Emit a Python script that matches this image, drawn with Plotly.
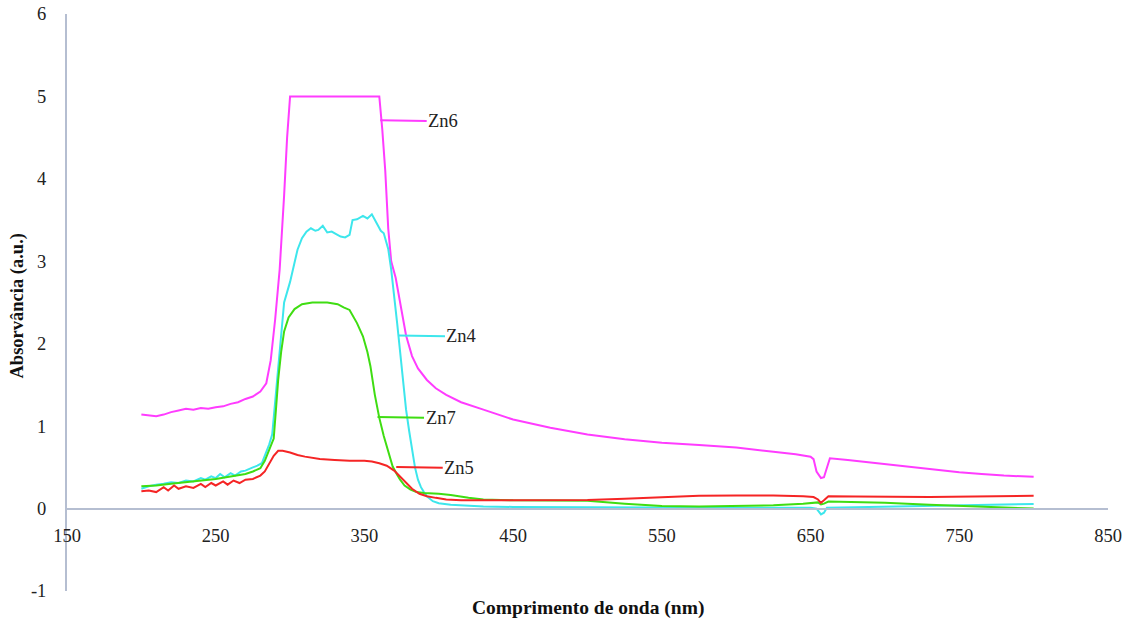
import plotly.graph_objects as go

# ---------------- data ----------------
zn6_nm = [200, 205, 210, 215, 220, 225, 230, 235, 240, 245, 250, 255, 260, 265, 270, 275, 280, 284, 287,
          290, 293, 296, 298, 300, 360, 362, 364, 366, 368, 371, 374, 378, 382, 386, 392, 398, 405, 415,
          430, 450, 475, 500, 525, 550, 575, 600, 625, 640, 650, 652, 654, 657, 659, 661, 663, 675, 690,
          710, 730, 750, 765, 780, 800]
zn6_abs = [1.14, 1.13, 1.12, 1.14, 1.17, 1.19, 1.21, 1.20, 1.22, 1.21, 1.23, 1.24, 1.27, 1.29, 1.33, 1.36,
           1.42, 1.52, 1.8, 2.3, 2.9, 3.8, 4.5, 5.0, 5.0, 4.6, 4.1, 3.4, 3.0, 2.8, 2.5, 2.1, 1.85, 1.7, 1.56,
           1.46, 1.38, 1.29, 1.2, 1.08, 0.98, 0.9, 0.84, 0.8, 0.77, 0.74, 0.69, 0.66, 0.63, 0.6, 0.45, 0.37,
           0.38, 0.5, 0.61, 0.59, 0.56, 0.52, 0.48, 0.44, 0.42, 0.40, 0.385]

zn4_nm = [200, 205, 210, 215, 220, 225, 230, 235, 240, 243, 247, 250, 253, 256, 260, 263, 267, 270, 275,
          278, 281, 284, 286, 288, 289.5, 291, 293, 296, 300, 302, 305, 308, 311, 314, 317, 319, 322, 325,
          328, 331, 334, 337, 340, 342, 345, 349, 352, 355, 358, 361, 363, 366, 368, 370, 372, 374, 376,
          378, 380, 382, 384, 386, 388, 390, 392, 396, 400, 408, 430, 450, 500, 550, 600, 640, 650, 654,
          657, 659, 661, 680, 710, 740, 770, 800]
zn4_abs = [0.24, 0.27, 0.29, 0.30, 0.32, 0.31, 0.34, 0.33, 0.37, 0.35, 0.39, 0.37, 0.42, 0.38, 0.43, 0.40,
           0.45, 0.46, 0.50, 0.52, 0.55, 0.68, 0.78, 0.9, 1.2, 1.56, 2.0, 2.5, 2.75, 2.9, 3.14, 3.28, 3.36,
           3.40, 3.37, 3.38, 3.43, 3.35, 3.36, 3.33, 3.30, 3.29, 3.32, 3.50, 3.51, 3.55, 3.52, 3.57, 3.47,
           3.37, 3.34, 3.15, 2.9, 2.6, 2.25, 1.9, 1.55, 1.2, 0.95, 0.7, 0.5, 0.35, 0.26, 0.2, 0.15, 0.09,
           0.065, 0.045, 0.025, 0.02, 0.015, 0.01, 0.01, 0.01, 0.01, 0.0, -0.07, -0.05, 0.01, 0.015, 0.025,
           0.035, 0.045, 0.055]

zn7_nm = [200, 210, 220, 230, 240, 250, 260, 270, 275, 280, 283, 286, 289, 290.5, 292, 294, 296, 299, 303,
          308, 315, 325, 332, 336, 340, 345, 349, 352, 354, 357, 360, 363, 365, 367, 369, 372, 374, 377,
          381, 385, 390, 400, 408, 420, 430, 450, 475, 500, 525, 550, 575, 600, 625, 645, 652, 655, 657,
          659, 662, 680, 700, 730, 765, 800]
zn7_abs = [0.27, 0.28, 0.30, 0.32, 0.34, 0.36, 0.39, 0.42, 0.45, 0.49, 0.58, 0.72, 0.85, 1.2, 1.56, 1.9,
           2.15, 2.32, 2.42, 2.48, 2.50, 2.50, 2.48, 2.44, 2.41, 2.25, 2.09, 1.9, 1.73, 1.38, 1.1, 0.88,
           0.75, 0.62, 0.51, 0.41, 0.35, 0.28, 0.23, 0.20, 0.19, 0.18, 0.165, 0.13, 0.11, 0.10, 0.10, 0.095,
           0.06, 0.03, 0.025, 0.03, 0.04, 0.06, 0.07, 0.075, 0.05, 0.06, 0.085, 0.08, 0.07, 0.045, 0.02, 0.0]

zn5_nm = [200, 205, 210, 215, 218, 222, 225, 230, 235, 240, 243, 247, 250, 255, 258, 262, 266, 270, 275,
          280, 283, 286, 289, 292, 295, 300, 305, 310, 320, 330, 340, 350, 355, 360, 365, 370, 374, 378,
          382, 387, 392, 398, 405, 415, 440, 475, 500, 525, 550, 575, 600, 625, 645, 652, 655, 657, 659,
          662, 680, 700, 730, 760, 780, 800]
zn5_abs = [0.21, 0.22, 0.20, 0.26, 0.22, 0.28, 0.24, 0.27, 0.25, 0.30, 0.26, 0.31, 0.28, 0.33, 0.29, 0.34,
           0.31, 0.35, 0.36, 0.40, 0.45, 0.55, 0.64, 0.70, 0.70, 0.68, 0.65, 0.63, 0.60, 0.59, 0.58, 0.58,
           0.57, 0.55, 0.52, 0.46, 0.39, 0.31, 0.24, 0.18, 0.15, 0.13, 0.11, 0.10, 0.10, 0.105, 0.105, 0.12,
           0.14, 0.155, 0.16, 0.16, 0.15, 0.14, 0.11, 0.07, 0.10, 0.15, 0.145, 0.14, 0.14, 0.145, 0.15, 0.155]

x_ticks = [150, 250, 350, 450, 550, 650, 750, 850]
y_ticks = [-1, 0, 1, 2, 3, 4, 5, 6]

# series: name, x, y, colour ; label anchor on the curve (nm, abs)
series = [
    ("Zn6", zn6_nm, zn6_abs, "#FF3CFF", 360.6, 4.71),
    ("Zn4", zn4_nm, zn4_abs, "#3DE6EC", 372.9, 2.10),
    ("Zn7", zn7_nm, zn7_abs, "#3FDD12", 358.8, 1.11),
    ("Zn5", zn5_nm, zn5_abs, "#F52525", 371.4, 0.503),
]

AXIS_COL = "#B5BED1"
FONT = "Liberation Serif"

fig = go.Figure()
for name, xs, ys, col, _, _ in series:
    fig.add_trace(go.Scatter(x=xs, y=ys, mode="lines", name=name,
                             line=dict(color=col, width=2), showlegend=False))

annotations = []
for name, xs, ys, col, lx, ly in series:
    annotations.append(dict(x=lx, y=ly, xref="x", yref="y", text=name,
                            showarrow=True, arrowhead=0, arrowwidth=2, arrowcolor=col,
                            ax=63, ay=1, font=dict(family=FONT, size=18.5, color="#222222")))

annotations.append(dict(x=0.5, y=0, xref="paper", yref="paper", yshift=-17, yanchor="middle",
                        text="<b>Comprimento de onda (nm)</b>", showarrow=False,
                        font=dict(family=FONT, size=19.5, color="#111111")))
annotations.append(dict(x=0, y=0.5, xref="paper", yref="paper", xshift=-50, xanchor="center",
                        yshift=-4, textangle=-90,
                        text="<b>Absorvância (a.u.)</b>", showarrow=False,
                        font=dict(family=FONT, size=18.5, color="#111111")))

fig.update_layout(
    width=1133, height=621,
    margin=dict(l=67, r=25, t=14, b=30, autoexpand=False),
    paper_bgcolor="white", plot_bgcolor="white",
    font=dict(family=FONT),
    annotations=annotations,
    xaxis=dict(range=[150, 850], tickvals=x_ticks, ticktext=[str(v) for v in x_ticks],
               showgrid=False, zeroline=False, showline=True, linecolor=AXIS_COL, linewidth=2,
               anchor="free", position=1 / 7, ticks="outside", ticklen=10, automargin=False,
               tickcolor="rgba(0,0,0,0)",
               tickfont=dict(family=FONT, size=18.5, color="#222222")),
    yaxis=dict(range=[-1, 6], tickvals=y_ticks, ticktext=[str(v) for v in y_ticks],
               showgrid=False, zeroline=False, showline=True, linecolor=AXIS_COL, linewidth=2,
               ticks="outside", ticklen=15, tickcolor="rgba(0,0,0,0)", automargin=False,
               tickfont=dict(family=FONT, size=18.5, color="#222222")),
)

fig.write_html("out.html")
